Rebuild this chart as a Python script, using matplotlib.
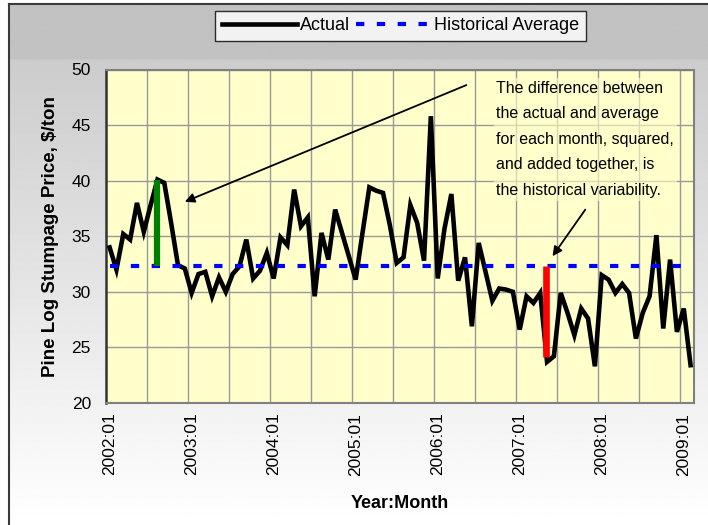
import numpy as np
import matplotlib
matplotlib.use('Agg')
import matplotlib.pyplot as plt
from matplotlib.ticker import FixedLocator

plt.rcParams['font.family'] = ['Liberation Sans', 'DejaVu Sans']

# monthly pine log stumpage prices, 2002:01 .. 2009:02
prices = [34.0, 32.0, 35.2, 34.7, 38.0, 35.4, 37.8, 40.1, 39.8, 36.2, 32.4, 32.1,
          29.9, 31.6, 31.8, 29.6, 31.3, 30.0, 31.6, 32.3, 34.7, 31.2, 31.9, 33.5,
          31.2, 34.9, 34.2, 39.2, 35.9, 36.7, 29.6, 35.3, 32.9, 37.4, 35.3, 33.2,
          31.1, 35.3, 39.4, 39.1, 38.9, 36.0, 32.6, 33.1, 37.8, 36.2, 32.8, 45.8,
          31.2, 35.7, 38.8, 31.0, 33.1, 26.9, 34.4, 31.8, 29.2, 30.3, 30.2, 30.0,
          26.6, 29.6, 29.0, 29.9, 23.7, 24.2, 29.9, 28.1, 26.1, 28.5, 27.6, 23.3,
          31.5, 31.1, 29.9, 30.7, 29.9, 25.8, 28.1, 29.6, 35.1, 26.7, 32.9, 26.4,
          28.5, 23.4]
hist_avg = 32.3
start_year, start_month = 2002, 1
labels = []
for k in range(len(prices)):
    y, m = start_year + (start_month - 1 + k) // 12, (start_month - 1 + k) % 12 + 1
    labels.append('%d:%02d' % (y, m))
above_month = 7     # green bar
below_month = 64    # red bar
note = ('The difference between\nthe actual and average\nfor each month, squared,\n'
        'and added together, is\nthe historical variability.')

n = len(prices)
x = np.arange(n)

fig = plt.figure(figsize=(7.08, 5.25), dpi=100, facecolor='white')

# background: grey band on top, fading to white, with a border at left/top
bg = fig.add_axes([0, 0, 1, 1], zorder=-10)
bg.set_xlim(0, 708)
bg.set_ylim(525, 0)
rows = np.linspace(0, 525, 526)
shade = np.where(rows < 56, 0.76, 0.80 + 0.20 * (rows - 56) / (525 - 56))
bg.imshow(np.repeat(shade[:, None], 2, axis=1), cmap='gray', vmin=0, vmax=1,
          extent=[9, 708, 525, 4], aspect='auto', interpolation='bilinear')
bg.plot([9, 9], [4, 525], color='#3a3a3a', lw=1.5)
bg.plot([9, 708], [4, 4], color='#3a3a3a', lw=1.5)
bg.axis('off')

ax = fig.add_axes([106.2 / 708, 1 - 403 / 525, (694 - 106.2) / 708, (403 - 69.5) / 525])
ax.set_facecolor('#FFFFCC')

ax.plot(x, prices, color='black', lw=3.3, solid_joinstyle='miter', label='Actual', zorder=3)
ax.plot(x, [hist_avg] * n, color='#0000FF', lw=3.0, dashes=(2, 3), label='Historical Average', zorder=4)

ax.plot([above_month, above_month], [hist_avg, prices[above_month]], color='#008000', lw=4.5,
        solid_capstyle='butt', zorder=5)
ax.plot([below_month - 0.2, below_month - 0.2], [hist_avg, prices[below_month] + 0.4], color='#FF0000',
        lw=4.8, solid_capstyle='butt', zorder=5)

ax.set_xlim(-0.5, n - 0.5)
ax.set_ylim(20, 50)
ax.set_yticks(np.arange(20, 51, 5))
ax.set_xticks(x[::12])
ax.set_xticklabels(labels[::12], rotation=90)
ax.xaxis.set_minor_locator(FixedLocator(np.arange(5.5, n - 0.5, 6)))
ax.grid(True, which='minor', axis='x', color='#999999', lw=1.0)
ax.grid(True, which='major', axis='y', color='#999999', lw=1.0)
ax.grid(False, which='major', axis='x')
ax.set_axisbelow(True)
ax.tick_params(axis='both', which='both', length=0, labelsize=12.5)
ax.tick_params(axis='y', pad=11)
ax.tick_params(axis='x', pad=7)

for side in ['top', 'right', 'bottom']:
    ax.spines[side].set_color('#808080')
    ax.spines[side].set_linewidth(1.5)
ax.spines['left'].set_color('#333333')
ax.spines['left'].set_linewidth(1.8)

ax.set_ylabel('Pine Log Stumpage Price, $/ton', fontsize=13.5, fontweight='bold', labelpad=9)
ax.set_xlabel('Year:Month', fontsize=13, fontweight='bold', labelpad=14)

ax.text(56.6, 49.0, note, ha='left', va='top', fontsize=11.5, linespacing=1.88, zorder=6,
        bbox=dict(facecolor='#FFFFCC', edgecolor='none', alpha=0.6, pad=2))
ax.annotate('', xy=(11.0, 38.1), xytext=(52.2, 48.6),
            arrowprops=dict(arrowstyle='-|>', color='black', lw=1.3, mutation_scale=14,
                            shrinkA=0, shrinkB=0), zorder=7)
ax.annotate('', xy=(64.8, 33.2), xytext=(69.6, 37.4),
            arrowprops=dict(arrowstyle='-|>', color='black', lw=1.3, mutation_scale=14,
                            shrinkA=0, shrinkB=0), zorder=7)

leg = ax.legend(loc='center', bbox_to_anchor=(400.5 / 708, 1 - 26 / 525), bbox_transform=fig.transFigure,
                ncol=2, fontsize=13, frameon=True, fancybox=False, handlelength=4.2,
                handletextpad=0.15, columnspacing=0.3, borderpad=0.35, borderaxespad=0)
leg.get_frame().set_edgecolor('black')
leg.get_frame().set_linewidth(1.0)
leg.get_frame().set_facecolor('white')

plt.savefig('out.png', dpi=100, facecolor=fig.get_facecolor())
